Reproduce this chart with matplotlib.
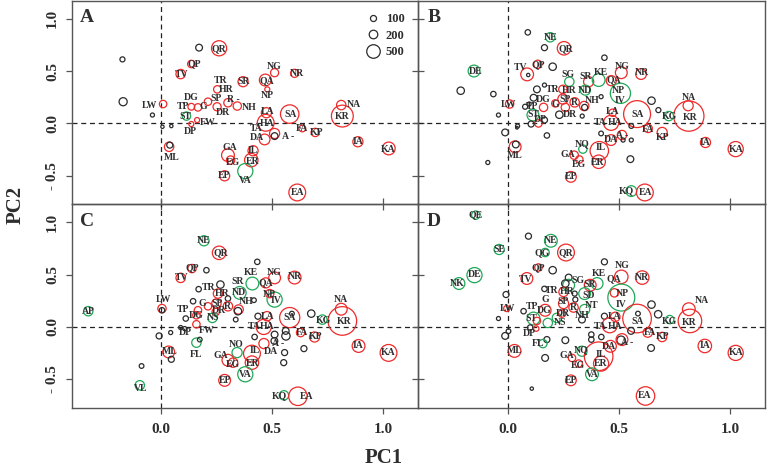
import matplotlib
matplotlib.use('Agg')
import matplotlib.pyplot as plt
from matplotlib.lines import Line2D
import numpy as np

plt.rcParams['font.family'] = ['Liberation Serif', 'DejaVu Serif']
plt.rcParams['font.weight'] = 'bold'

# ── data: circles (PC1, PC2, abundance, group) and labels (text, PC1, PC2) ──
# group: r = red, g = green, k = black (unlabelled)
CIRCLES_A = [
    (-0.174, 0.611, 70, 'k'), (-0.171, 0.207, 180, 'k'), (-0.039, 0.080, 45, 'k'),
    (0.171, 0.723, 125, 'k'), (0.261, 0.717, 625, 'r'), (0.136, 0.567, 150, 'r'),
    (0.088, 0.471, 240, 'r'), (0.511, 0.484, 180, 'r'), (0.601, 0.478, 180, 'r'),
    (0.369, 0.398, 280, 'r'), (0.469, 0.414, 380, 'r'), (0.253, 0.325, 150, 'r'),
    (0.478, 0.325, 70, 'r'), (0.009, 0.185, 150, 'r'), (0.136, 0.159, 125, 'r'),
    (0.166, 0.153, 150, 'r'), (0.211, 0.207, 150, 'r'), (0.252, 0.159, 180, 'r'),
    (0.301, 0.197, 190, 'r'), (0.343, 0.166, 190, 'r'), (0.474, 0.102, 280, 'r'),
    (0.579, 0.089, 930, 'r'), (0.471, 0.006, 770, 'r'), (0.114, 0.070, 190, 'g'),
    (0.162, 0.032, 70, 'r'), (0.136, -0.006, 70, 'r'), (0.006, -0.032, 30, 'k'),
    (0.046, -0.025, 30, 'k'), (0.511, -0.096, 280, 'r'), (0.511, -0.121, 125, 'k'),
    (0.466, -0.153, 315, 'r'), (0.636, -0.048, 125, 'r'), (0.694, -0.086, 190, 'r'),
    (0.811, 0.175, 240, 'r'), (0.816, 0.070, 1300, 'r'), (0.886, -0.175, 280, 'r'),
    (1.025, -0.239, 445, 'r'), (0.036, -0.223, 240, 'r'), (0.039, -0.207, 100, 'k'),
    (0.301, -0.303, 445, 'r'), (0.313, -0.350, 190, 'r'), (0.414, -0.261, 280, 'r'),
    (0.406, -0.350, 495, 'r'), (0.379, -0.455, 625, 'g'), (0.286, -0.500, 280, 'r'),
    (0.613, -0.659, 770, 'r'),
]
LABELS_A = [
    ('QR', 0.261, 0.717), ('QP', 0.147, 0.567), ('TV', 0.091, 0.471), ('NG', 0.507, 0.541),
    ('NR', 0.612, 0.478), ('TR', 0.267, 0.414), ('SR', 0.373, 0.398), ('QA', 0.477, 0.408),
    ('HR', 0.294, 0.325), ('NP', 0.480, 0.271), ('DG', 0.136, 0.245), ('SP', 0.249, 0.239),
    ('R -', 0.324, 0.229), ('LW', -0.051, 0.175), ('TP', 0.099, 0.166), ('G', 0.192, 0.166),
    ('NH', 0.396, 0.153), ('DR', 0.276, 0.105), ('LA', 0.478, 0.118), ('SA', 0.583, 0.089),
    ('ST', 0.111, 0.070), ('HA', 0.477, 0.000), ('FW', 0.211, 0.006), ('TA', 0.429, -0.048),
    ('FA', 0.634, -0.048), ('DP', 0.133, -0.073), ('A -', 0.571, -0.127), ('KP', 0.702, -0.086),
    ('NA', 0.868, 0.182), ('KR', 0.816, 0.064), ('DA', 0.433, -0.137), ('IA', 0.886, -0.175),
    ('KA', 1.021, -0.245), ('GA', 0.309, -0.229), ('IL', 0.414, -0.261), ('ML', 0.046, -0.325),
    ('EG', 0.324, -0.373), ('ER', 0.411, -0.360), ('VA', 0.379, -0.541), ('EP', 0.283, -0.500),
    ('EA', 0.616, -0.662),
]

CIRCLES_B = [
    (0.090, 0.869, 80, 'k'), (0.191, 0.822, 240, 'g'), (0.165, 0.723, 100, 'k'),
    (0.253, 0.717, 495, 'r'), (0.435, 0.627, 80, 'k'), (-0.152, 0.500, 380, 'g'),
    (0.135, 0.564, 190, 'r'), (0.087, 0.468, 445, 'r'), (0.202, 0.541, 150, 'k'),
    (0.511, 0.484, 380, 'r'), (0.600, 0.471, 315, 'r'), (0.277, 0.398, 240, 'g'),
    (0.364, 0.398, 280, 'r'), (0.409, 0.414, 445, 'g'), (0.466, 0.408, 280, 'r'),
    (0.092, 0.462, 30, 'k'), (-0.212, 0.312, 150, 'k'), (-0.065, 0.280, 80, 'k'),
    (0.131, 0.325, 125, 'k'), (0.165, 0.366, 45, 'k'), (0.248, 0.325, 190, 'r'),
    (0.349, 0.318, 280, 'g'), (0.507, 0.287, 1110, 'g'), (0.420, 0.255, 45, 'k'),
    (0.647, 0.217, 150, 'k'), (0.116, 0.245, 125, 'k'), (0.078, 0.159, 70, 'k'),
    (0.096, 0.185, 45, 'k'), (0.161, 0.153, 190, 'r'), (0.248, 0.232, 280, 'r'),
    (0.214, 0.191, 150, 'r'), (0.301, 0.201, 240, 'r'), (0.344, 0.166, 240, 'r'),
    (0.346, 0.153, 100, 'k'), (0.259, 0.153, 190, 'r'), (0.232, 0.083, 150, 'k'),
    (0.335, 0.070, 45, 'k'), (0.008, 0.185, 190, 'r'), (-0.042, 0.080, 45, 'k'),
    (0.113, 0.080, 380, 'g'), (0.472, 0.102, 150, 'r'), (0.582, 0.089, 1975, 'r'),
    (0.812, 0.169, 280, 'r'), (0.815, 0.070, 2500, 'r'), (0.678, 0.127, 70, 'k'),
    (0.725, 0.070, 240, 'g'), (0.465, 0.006, 625, 'r'), (0.556, -0.025, 60, 'k'),
    (0.138, 0.000, 150, 'r'), (0.105, -0.006, 100, 'k'), (0.165, 0.032, 100, 'k'),
    (0.044, -0.025, 45, 'k'), (0.041, -0.041, 20, 'k'), (-0.012, -0.086, 125, 'k'),
    (0.176, -0.115, 80, 'k'), (0.420, -0.096, 60, 'k'), (0.632, -0.048, 190, 'r'),
    (0.514, -0.111, 240, 'r'), (0.519, -0.159, 45, 'k'), (0.556, -0.159, 45, 'k'),
    (0.465, -0.159, 315, 'r'), (0.695, -0.086, 280, 'r'), (0.890, -0.182, 280, 'r'),
    (1.026, -0.245, 625, 'r'), (0.033, -0.223, 380, 'r'), (0.036, -0.201, 125, 'k'),
    (0.338, -0.245, 190, 'g'), (0.412, -0.261, 930, 'r'), (0.299, -0.303, 190, 'r'),
    (0.322, -0.344, 150, 'r'), (0.409, -0.366, 495, 'r'), (0.552, -0.341, 125, 'k'),
    (-0.090, -0.373, 45, 'k'), (0.284, -0.510, 315, 'r'), (0.556, -0.646, 315, 'g'),
    (0.617, -0.659, 770, 'r'),
]
LABELS_B = [
    ('NE', 0.191, 0.822), ('QR', 0.259, 0.710), ('DE', -0.147, 0.500), ('TV', 0.059, 0.532),
    ('QP', 0.138, 0.564), ('NG', 0.514, 0.541), ('NR', 0.605, 0.484), ('SG', 0.271, 0.471),
    ('SR', 0.352, 0.452), ('KE', 0.420, 0.484), ('QA', 0.477, 0.414), ('TR', 0.202, 0.325),
    ('HR', 0.274, 0.312), ('ND', 0.349, 0.318), ('NP', 0.499, 0.312), ('DG', 0.161, 0.232),
    ('SP', 0.259, 0.229), ('IV', 0.507, 0.223), ('NH', 0.379, 0.217), ('LW', 0.003, 0.185),
    ('TP', 0.108, 0.166), ('G', 0.214, 0.185), ('R', 0.299, 0.197), ('DR', 0.280, 0.083),
    ('LA', 0.472, 0.115), ('SA', 0.585, 0.089), ('ST', 0.116, 0.086), ('KG', 0.729, 0.070),
    ('KR', 0.820, 0.054), ('NA', 0.815, 0.248), ('TA', 0.414, 0.006), ('HA', 0.484, 0.006),
    ('DP', 0.146, 0.038), ('FA', 0.632, -0.054), ('A -', 0.514, -0.111), ('KP', 0.695, -0.134),
    ('DA', 0.462, -0.153), ('IA', 0.890, -0.182), ('KA', 1.026, -0.245), ('NQ', 0.337, -0.191),
    ('IL', 0.417, -0.229), ('ML', 0.033, -0.303), ('GA', 0.269, -0.293), ('EG', 0.322, -0.389),
    ('ER', 0.405, -0.373), ('EP', 0.284, -0.510), ('KQ', 0.532, -0.646), ('EA', 0.620, -0.659),
]

CIRCLES_C = [
    (0.193, 0.822, 280, 'g'), (0.261, 0.707, 495, 'r'), (0.433, 0.621, 80, 'k'),
    (0.139, 0.557, 190, 'r'), (0.204, 0.541, 80, 'k'), (0.088, 0.468, 240, 'r'),
    (0.411, 0.414, 445, 'g'), (0.471, 0.420, 280, 'r'), (0.511, 0.468, 380, 'r'),
    (0.601, 0.471, 445, 'r'), (0.267, 0.404, 150, 'k'), (0.169, 0.360, 80, 'k'),
    (0.256, 0.318, 240, 'r'), (0.301, 0.271, 80, 'k'), (0.354, 0.325, 445, 'g'),
    (0.489, 0.318, 190, 'r'), (0.511, 0.261, 625, 'g'), (0.418, 0.255, 60, 'k'),
    (0.144, 0.245, 80, 'k'), (0.004, 0.175, 190, 'r'), (0.004, 0.159, 80, 'k'),
    (-0.328, 0.150, 240, 'g'), (0.166, 0.159, 150, 'r'), (0.249, 0.223, 240, 'r'),
    (0.211, 0.197, 150, 'r'), (0.301, 0.197, 240, 'r'), (0.246, 0.143, 150, 'r'),
    (0.349, 0.166, 240, 'r'), (0.346, 0.150, 150, 'k'), (0.111, 0.080, 80, 'k'),
    (0.159, 0.111, 150, 'r'), (0.231, 0.086, 240, 'g'), (0.336, 0.070, 60, 'k'),
    (0.436, 0.102, 100, 'k'), (0.477, 0.102, 240, 'r'), (0.579, 0.089, 1110, 'r'),
    (0.589, 0.127, 60, 'k'), (0.676, 0.127, 150, 'k'), (0.726, 0.070, 240, 'g'),
    (0.811, 0.169, 380, 'r'), (0.816, 0.057, 2230, 'r'), (0.462, 0.000, 625, 'r'),
    (0.088, -0.006, 45, 'k'), (0.106, -0.016, 45, 'k'), (0.159, 0.025, 150, 'r'),
    (0.043, -0.054, 45, 'k'), (-0.009, -0.086, 100, 'k'), (0.628, -0.054, 190, 'r'),
    (0.561, -0.038, 125, 'k'), (0.562, -0.086, 190, 'k'), (0.421, -0.096, 80, 'k'),
    (0.511, -0.073, 125, 'k'), (0.510, -0.134, 125, 'k'), (0.463, -0.159, 280, 'r'),
    (0.691, -0.096, 280, 'r'), (0.643, -0.207, 100, 'k'), (0.159, -0.150, 240, 'g'),
    (0.174, -0.121, 60, 'k'), (0.034, -0.239, 380, 'r'), (0.046, -0.309, 100, 'k'),
    (0.342, -0.245, 280, 'g'), (0.409, -0.255, 770, 'r'), (0.301, -0.318, 380, 'r'),
    (0.324, -0.341, 240, 'r'), (0.409, -0.341, 495, 'r'), (0.556, -0.245, 100, 'k'),
    (0.552, -0.341, 100, 'k'), (0.889, -0.182, 445, 'r'), (1.024, -0.248, 770, 'r'),
    (-0.088, -0.373, 60, 'k'), (0.379, -0.452, 625, 'g'), (0.286, -0.510, 380, 'r'),
    (-0.096, -0.557, 240, 'g'), (0.553, -0.653, 240, 'g'), (0.616, -0.662, 930, 'r'),
]
LABELS_C = [
    ('NE', 0.193, 0.822), ('QR', 0.268, 0.710), ('QP', 0.139, 0.567), ('TV', 0.094, 0.468),
    ('KE', 0.406, 0.519), ('NG', 0.507, 0.519), ('NR', 0.604, 0.478), ('SR', 0.343, 0.436),
    ('QA', 0.471, 0.420), ('TR', 0.214, 0.373), ('HR', 0.276, 0.318), ('ND', 0.349, 0.328),
    ('NP', 0.489, 0.312), ('IV', 0.516, 0.255), ('LW', 0.012, 0.264), ('NA', 0.808, 0.264),
    ('AP', -0.328, 0.150), ('G', 0.186, 0.223), ('SP', 0.253, 0.223), ('R', 0.298, 0.197),
    ('NH', 0.384, 0.239), ('TP', 0.099, 0.166), ('DR', 0.261, 0.159), ('DG', 0.156, 0.111),
    ('NS', 0.234, 0.089), ('LA', 0.481, 0.096), ('SA', 0.579, 0.089), ('KG', 0.729, 0.064),
    ('KR', 0.823, 0.048), ('TA', 0.421, 0.006), ('HA', 0.477, 0.000), ('DP', 0.111, -0.054),
    ('FW', 0.204, -0.032), ('FA', 0.634, -0.054), ('A -', 0.526, -0.159), ('KP', 0.696, -0.096),
    ('DA', 0.492, -0.232), ('IA', 0.886, -0.182), ('KA', 1.024, -0.248), ('NO', 0.339, -0.169),
    ('IL', 0.421, -0.229), ('FL', 0.156, -0.261), ('ML', 0.039, -0.239), ('GA', 0.268, -0.271),
    ('EG', 0.324, -0.360), ('ER', 0.414, -0.350), ('VA', 0.379, -0.455), ('EP', 0.286, -0.516),
    ('VL', -0.093, -0.583), ('KQ', 0.534, -0.653), ('EA', 0.657, -0.662),
]

CIRCLES_D = [
    (-0.144, 1.067, 190, 'g'), (-0.039, 0.739, 280, 'g'), (0.093, 0.866, 100, 'k'),
    (0.194, 0.822, 445, 'g'), (0.168, 0.710, 190, 'g'), (0.262, 0.710, 770, 'r'),
    (0.435, 0.621, 100, 'k'), (0.138, 0.567, 150, 'r'), (0.202, 0.541, 150, 'k'),
    (-0.150, 0.494, 625, 'g'), (-0.220, 0.414, 380, 'g'), (0.086, 0.462, 380, 'r'),
    (0.511, 0.478, 495, 'r'), (0.605, 0.471, 495, 'r'), (0.402, 0.414, 380, 'g'),
    (0.480, 0.325, 190, 'r'), (0.274, 0.471, 125, 'k'), (0.274, 0.398, 380, 'g'),
    (0.259, 0.414, 150, 'k'), (0.371, 0.398, 380, 'r'), (0.346, 0.318, 380, 'g'),
    (0.511, 0.280, 1975, 'g'), (-0.008, 0.309, 100, 'k'), (0.165, 0.363, 80, 'k'),
    (0.251, 0.334, 240, 'r'), (0.301, 0.318, 70, 'k'), (0.304, 0.261, 70, 'k'),
    (0.251, 0.223, 280, 'r'), (0.296, 0.185, 240, 'r'), (0.346, 0.166, 280, 'g'),
    (0.168, 0.159, 380, 'r'), (0.071, 0.150, 80, 'k'), (-0.042, 0.080, 45, 'k'),
    (-0.005, 0.175, 100, 'r'), (0.116, 0.080, 445, 'g'), (0.131, 0.057, 150, 'r'),
    (0.180, 0.038, 240, 'g'), (0.221, 0.086, 240, 'g'), (0.244, 0.127, 150, 'r'),
    (0.334, 0.070, 125, 'k'), (0.435, 0.102, 100, 'k'), (0.484, 0.096, 240, 'r'),
    (0.582, 0.080, 2230, 'r'), (0.586, 0.127, 60, 'k'), (0.647, 0.213, 150, 'k'),
    (0.677, 0.121, 150, 'k'), (0.729, 0.070, 190, 'g'), (0.815, 0.169, 445, 'r'),
    (0.820, 0.057, 1510, 'r'), (0.459, 0.016, 625, 'r'), (0.555, -0.038, 125, 'k'),
    (0.101, -0.006, 80, 'k'), (0.128, -0.016, 80, 'r'), (0.003, -0.041, 60, 'k'),
    (-0.012, -0.086, 125, 'k'), (0.176, -0.121, 100, 'k'), (0.259, -0.127, 125, 'k'),
    (0.376, -0.073, 80, 'k'), (0.376, -0.121, 80, 'k'), (0.421, -0.096, 80, 'k'),
    (0.630, -0.054, 240, 'r'), (0.510, -0.127, 190, 'k'), (0.514, -0.121, 380, 'r'),
    (0.695, -0.096, 240, 'r'), (0.645, -0.201, 125, 'k'), (0.462, -0.185, 380, 'r'),
    (0.158, -0.159, 190, 'g'), (0.030, -0.229, 445, 'r'), (0.334, -0.232, 280, 'g'),
    (0.409, -0.280, 2230, 'r'), (0.289, -0.296, 150, 'r'), (0.319, -0.350, 150, 'r'),
    (0.420, -0.350, 625, 'r'), (0.168, -0.296, 125, 'k'), (0.887, -0.182, 495, 'r'),
    (1.026, -0.248, 625, 'r'), (0.379, -0.452, 445, 'g'), (0.284, -0.510, 315, 'r'),
    (0.108, -0.589, 30, 'k'), (0.620, -0.659, 930, 'r'),
]
LABELS_D = [
    ('QE', -0.143, 1.067), ('SE', -0.039, 0.739), ('NE', 0.194, 0.822), ('QG', 0.153, 0.710),
    ('QR', 0.263, 0.710), ('QP', 0.138, 0.567), ('TV', 0.078, 0.455), ('DE', -0.150, 0.500),
    ('NK', -0.226, 0.414), ('NG', 0.514, 0.583), ('KE', 0.412, 0.510), ('QA', 0.477, 0.462),
    ('NR', 0.605, 0.471), ('SG', 0.314, 0.446), ('SR', 0.368, 0.408), ('TR', 0.198, 0.344),
    ('HR', 0.266, 0.334), ('SD', 0.364, 0.303), ('NP', 0.514, 0.318), ('IV', 0.511, 0.217),
    ('G', 0.168, 0.264), ('SP', 0.247, 0.245), ('R', 0.293, 0.185), ('NT', 0.379, 0.201),
    ('NA', 0.875, 0.255), ('LW', -0.002, 0.175), ('TP', 0.108, 0.197), ('DG', 0.165, 0.159),
    ('DR', 0.247, 0.127), ('NH', 0.334, 0.105), ('ST', 0.108, 0.080), ('NS', 0.236, 0.041),
    ('LA', 0.481, 0.096), ('SA', 0.585, 0.048), ('KG', 0.728, 0.048), ('KR', 0.815, 0.041),
    ('TA', 0.417, 0.006), ('HA', 0.484, 0.000), ('DP', 0.098, -0.064), ('FA', 0.638, -0.054),
    ('A -', 0.537, -0.153), ('KP', 0.698, -0.096), ('FL', 0.135, -0.159), ('DA', 0.454, -0.185),
    ('IA', 0.887, -0.182), ('KA', 1.026, -0.248), ('ML', 0.030, -0.229), ('NQ', 0.329, -0.213),
    ('GA', 0.266, -0.277), ('IL', 0.417, -0.264), ('EG', 0.316, -0.366), ('ER', 0.417, -0.350),
    ('VA', 0.379, -0.452), ('EP', 0.284, -0.510), ('EA', 0.615, -0.659),
]

PANELS = ['A', 'B', 'C', 'D']
LEGEND_SIZES = [100, 200, 500]
X_TICKS = [0.0, 0.5, 1.0]
X_TICKLABELS = ['0.0', '0.5', '1.0']
Y_TICKS = [-0.5, 0.0, 0.5, 1.0]
Y_TICKLABELS = ['- 0.5', '0.0', '0.5', '1.0']

COLORS = {'r': '#EE2A2A', 'g': '#1FA858', 'k': '#2B2B2B'}
TXT = '#2E2E2E'
SIZE_K = 0.19   # abundance -> marker area (pt^2)

fig = plt.figure(figsize=(7.67, 4.71), dpi=100)
W, H = 767, 471
x0, x1 = 71.6, 765.0
y0, y1 = 0.6, 407.6
pw = (x1 - x0) / 2
ph = (y1 - y0) / 2

data = {
    'A': (CIRCLES_A, LABELS_A), 'B': (CIRCLES_B, LABELS_B),
    'C': (CIRCLES_C, LABELS_C), 'D': (CIRCLES_D, LABELS_D),
}

for i, name in enumerate(PANELS):
    row, col = divmod(i, 2)
    left = (x0 + col * pw) / W
    bottom = 1 - (y0 + (row + 1) * ph) / H
    ax = fig.add_axes([left, bottom, pw / W, ph / H])
    ax.patch.set_visible(False)
    ax.set_xlim(-0.403, 1.158)
    ax.set_ylim(-0.77, 1.172)

    ax.axhline(0, color='#222222', lw=0.9, ls=(0, (4, 3)), zorder=1)
    ax.axvline(0, color='#222222', lw=0.9, ls=(0, (4, 3)), zorder=1)

    circles, labels = data[name]
    cx = np.array([c[0] for c in circles])
    cy = np.array([c[1] for c in circles])
    cs = np.array([c[2] for c in circles]) * SIZE_K
    cc = [COLORS[c[3]] for c in circles]
    ax.scatter(cx, cy, s=cs, facecolors='none', edgecolors=cc, linewidths=0.9, zorder=3)

    for txt, lx, ly in labels:
        ax.text(lx, ly, txt, ha='center', va='center', fontsize=7, color=TXT,
                fontweight='bold', zorder=4, clip_on=True)

    ax.text(0.045, 0.915, name, transform=ax.transAxes, fontsize=14,
            fontweight='bold', color=TXT, ha='center', va='center')

    for sp in ax.spines.values():
        sp.set_color('#555555')
        sp.set_linewidth(1.0)

    ax.set_xticks(X_TICKS)
    ax.set_yticks(Y_TICKS)
    ax.tick_params(length=4, width=0.9, color='#555555', direction='out',
                   labelsize=11, labelcolor=TXT)
    ax.tick_params(axis='x', top=(row == 1), bottom=True,
                   labelbottom=(row == 1), pad=7)
    ax.tick_params(axis='y', left=True, right=(col == 0),
                   labelleft=(col == 0), pad=5)
    if row == 1:
        ax.set_xticklabels(X_TICKLABELS, fontweight='bold')
    if col == 0:
        ax.set_yticklabels(Y_TICKLABELS, fontweight='bold', rotation=90, va='center')

    if name == 'A':
        handles = [Line2D([], [], marker='o', ls='', mfc='none', mec='#2B2B2B',
                          mew=0.9, markersize=np.sqrt(v * SIZE_K)) for v in LEGEND_SIZES]
        ax.legend(handles, [str(v) for v in LEGEND_SIZES], loc='upper right',
                  bbox_to_anchor=(0.985, 0.98), frameon=False, handlelength=1.0,
                  handletextpad=0.5, labelspacing=0.35, borderpad=0.2,
                  prop={'size': 9, 'weight': 'bold'}, labelcolor=TXT)

fig.text(384 / W, 1 - 458 / H, 'PC1', ha='center', va='center', fontsize=15,
         fontweight='bold', color=TXT)
fig.text(16 / W, 1 - 205 / H, 'PC2', ha='center', va='center', fontsize=15,
         fontweight='bold', color=TXT, rotation=90)

fig.savefig('out.png', dpi=100, facecolor='white')
